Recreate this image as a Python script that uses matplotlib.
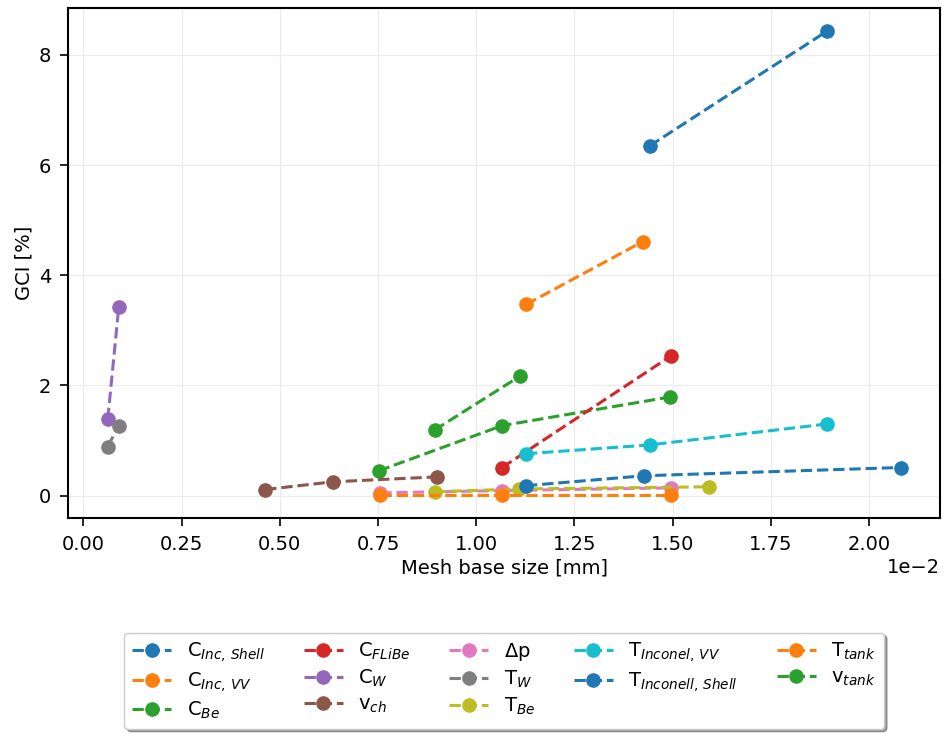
import matplotlib
matplotlib.use("Agg")
import matplotlib.pyplot as plt

labels = [r"C$_{Inc,\,Shell}$", r"C$_{Inc,\,VV}$", r"C$_{Be}$", r"C$_{FLiBe}$",
          r"C$_{W}$", r"v$_{ch}$", r"$\Delta$p", r"T$_{W}$", r"T$_{Be}$",
          r"T$_{Inconel,\,VV}$", r"T$_{Inconell,\,Shell}$", r"T$_{tank}$", r"v$_{tank}$"]

mesh_sizes = [
    [1.442, 1.893],            # C_Inc,Shell
    [1.127, 1.424],            # C_Inc,VV
    [0.752, 1.066, 1.493],     # C_Be
    [1.066, 1.495],            # C_FLiBe
    [0.062, 0.090],            # C_W
    [0.463, 0.635, 0.901],     # v_ch
    [0.756, 1.066, 1.495],     # dp
    [0.062, 0.090],            # T_W
    [0.894, 1.110, 1.594],     # T_Be
    [1.127, 1.442, 1.893],     # T_Inconel,VV
    [1.127, 1.427, 2.081],     # T_Inconell,Shell
    [0.756, 1.066, 1.495],     # T_tank
    [0.894, 1.112],            # v_tank
]

gci = [
    [6.35, 8.43],
    [3.47, 4.61],
    [0.45, 1.27, 1.79],
    [0.51, 2.53],
    [1.39, 3.42],
    [0.11, 0.25, 0.34],
    [0.05, 0.09, 0.14],
    [0.89, 1.27],
    [0.07, 0.12, 0.16],
    [0.76, 0.92, 1.30],
    [0.18, 0.36, 0.51],
    [0.01, 0.01, 0.01],
    [1.19, 2.17],
]

plt.rcParams["font.family"] = ["DejaVu Sans"]
plt.rcParams["font.size"] = 14

fig = plt.figure(figsize=(9.46, 7.33), dpi=100)
ax = fig.add_axes([0.072, 0.293, 0.922, 0.696])

for lab, xs, ys in zip(labels, mesh_sizes, gci):
    ax.plot([x * 1e-2 for x in xs], ys, "--o", lw=2.2, ms=9.5, label=lab)

ax.ticklabel_format(axis="x", style="sci", scilimits=(0, 0))
ax.tick_params(length=6, width=1.2, pad=6)
ax.set_xlabel("Mesh base size [mm]", labelpad=3)
ax.set_ylabel("GCI [%]")
ax.grid(True, color="#ebebeb", lw=0.8)
ax.set_axisbelow(True)
for s in ax.spines.values():
    s.set_linewidth(1.5)

ax.legend(loc="upper center", bbox_to_anchor=(0.5, -0.205), ncol=5,
          shadow=True, fancybox=True, fontsize=14, labelspacing=0.3)

fig.savefig("out.png", dpi=100)
